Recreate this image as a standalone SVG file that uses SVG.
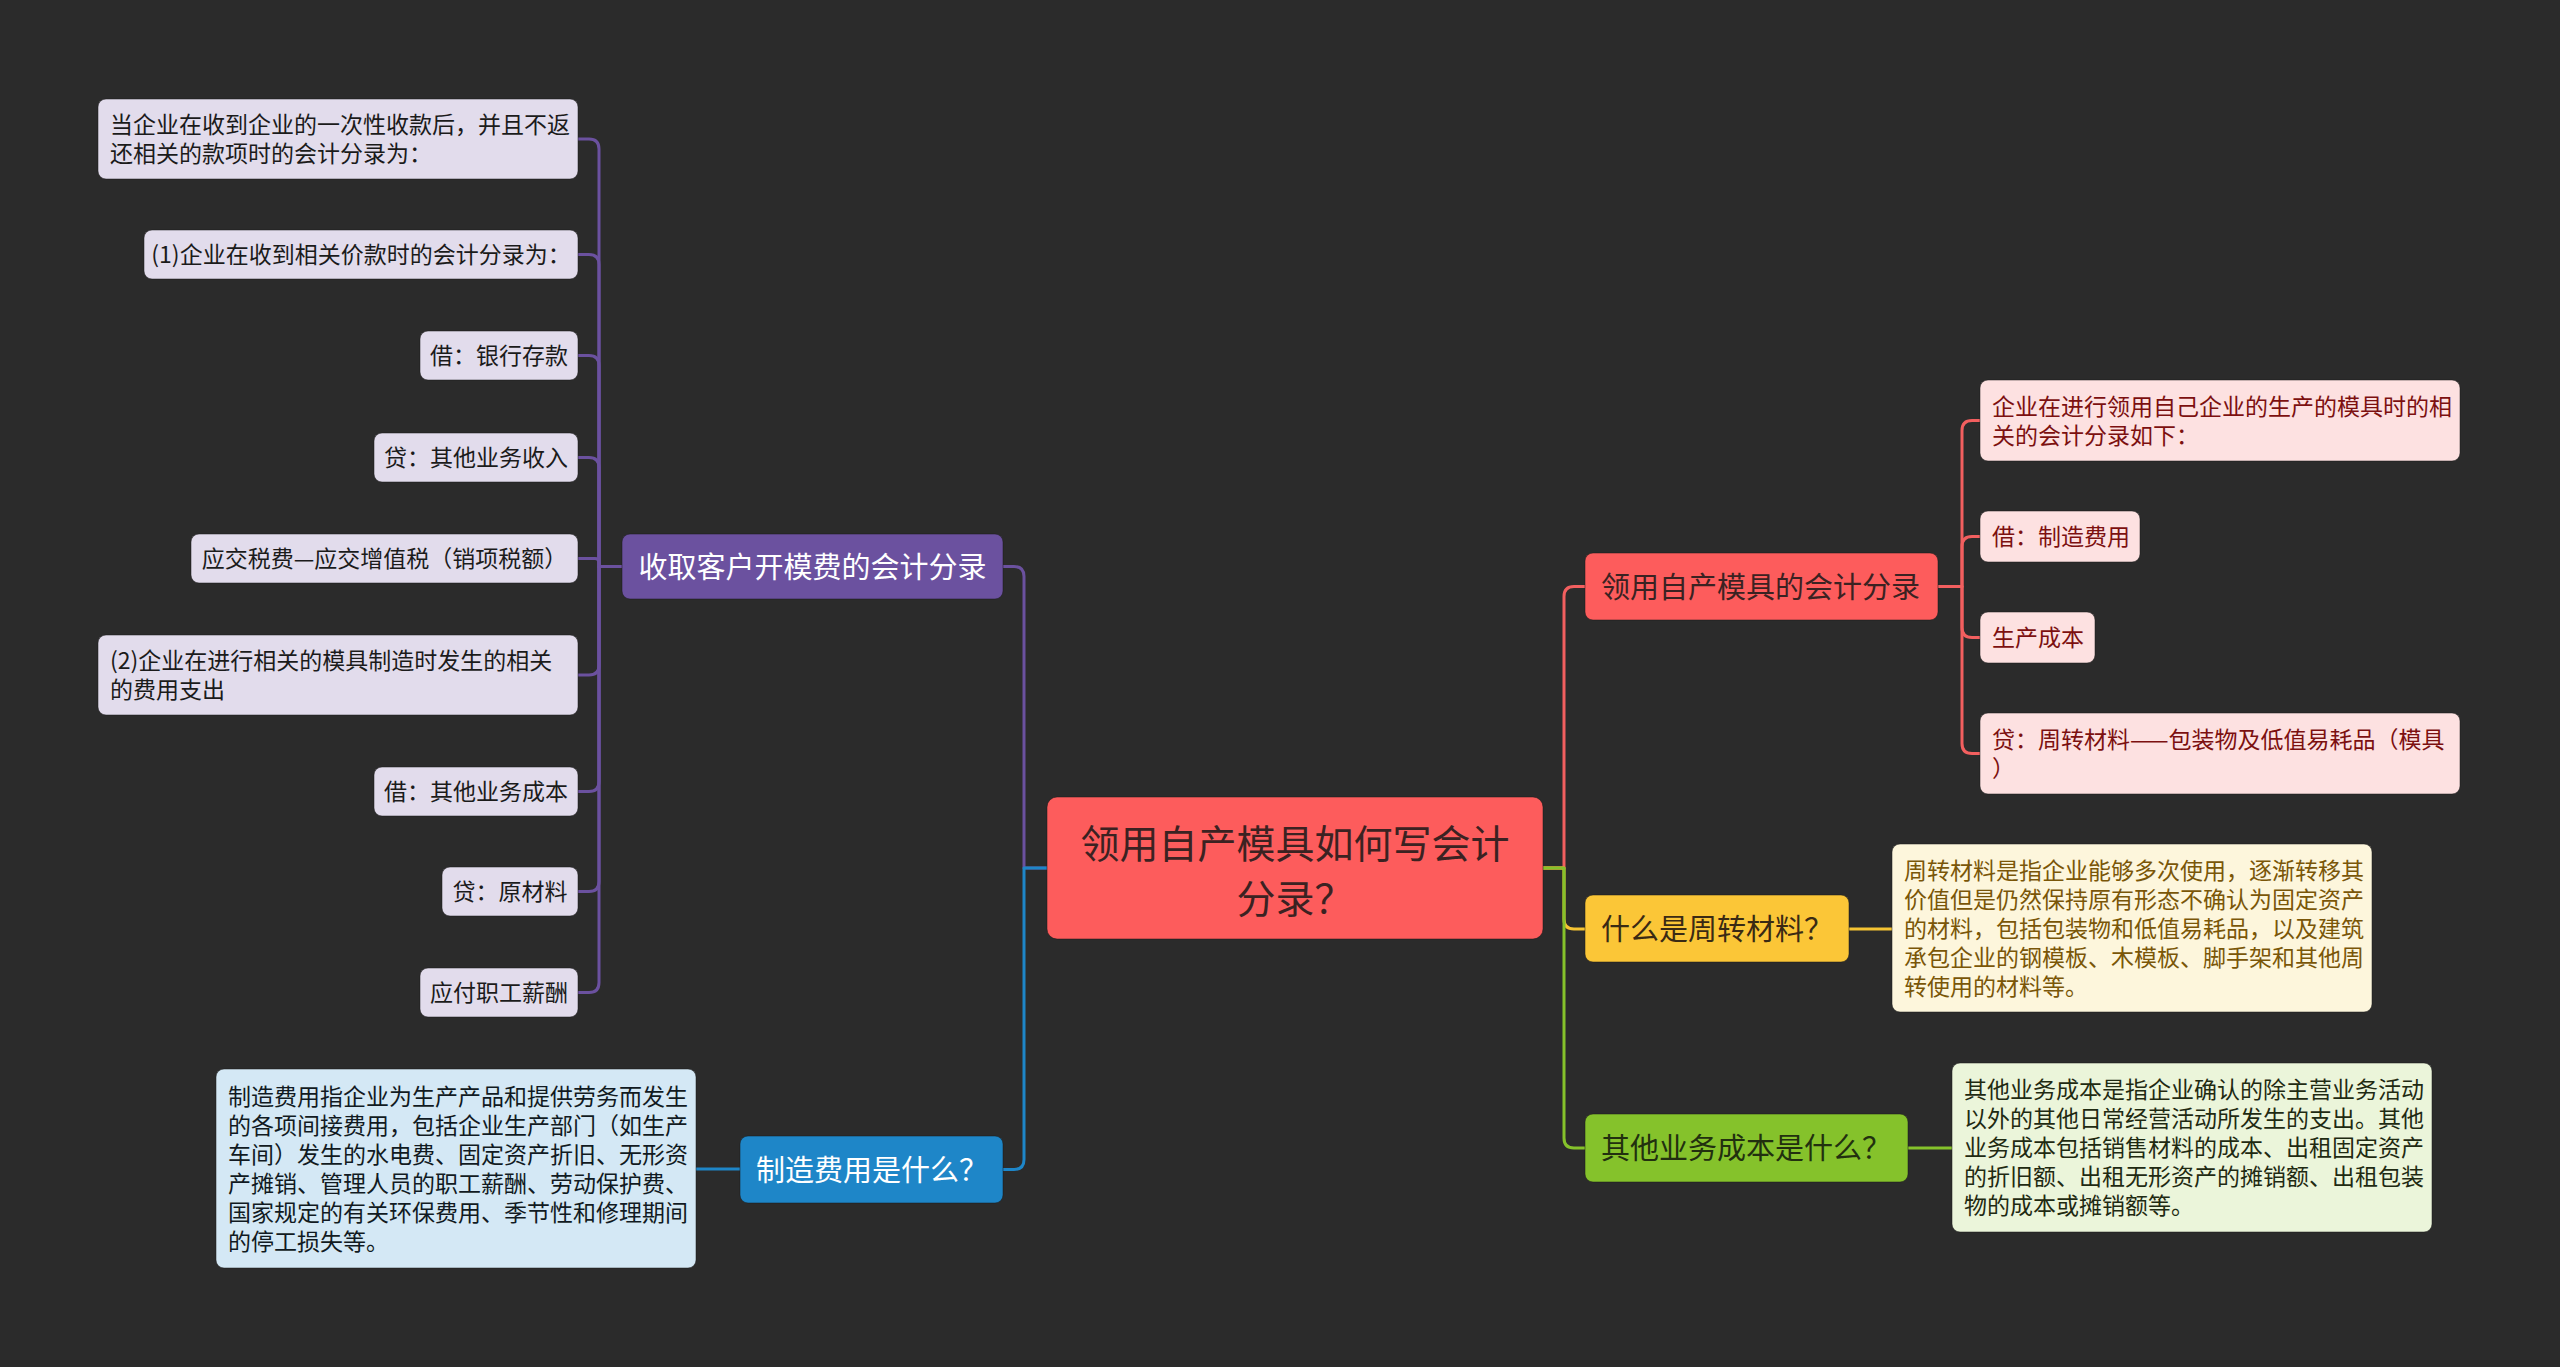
<svg xmlns="http://www.w3.org/2000/svg" width="2560" height="1367" viewBox="0 0 2560 1367">
<style>
text{font-family:"Noto Sans CJK SC","Noto Sans",sans-serif;}
.main{font-size:29px;}
.leaf{font-size:23px;}
.c{fill:none;stroke-width:3;stroke-linecap:round;stroke-linejoin:round;}
.pl{fill:#e2dcec;}
.pt{fill:#1b1b1b;}
.rl{fill:#fde1e1;}
.rt{fill:#7c1010;}
.bx{stroke:#1a1a1a;stroke-opacity:0.5;stroke-width:1;}
</style>
<rect width="2560" height="1367" fill="#2b2b2b"/>
<g id="connectors">
<path class="c" stroke="#6b519f" d="M1047 868 H1024 V576.5 Q1024 566.5 1014 566.5 H1003"/>
<path class="c" stroke="#1e86c8" d="M1047 868 H1024 V1159.5 Q1024 1169.5 1014 1169.5 H1003"/>
<path class="c" stroke="#f25f5f" d="M1543 868 H1564 V596.5 Q1564 586.5 1574 586.5 H1585"/>
<path class="c" stroke="#f6c433" d="M1543 868 H1564 V919 Q1564 929 1574 929 H1585"/>
<path class="c" stroke="#85c22b" d="M1543 868 H1564 V1138 Q1564 1148 1574 1148 H1585"/>
<g stroke="#6b519f">
<path class="c" d="M622 566.5 H599 V149 Q599 139 589 139 H578"/>
<path class="c" d="M622 566.5 H599 V264.5 Q599 254.5 589 254.5 H578"/>
<path class="c" d="M622 566.5 H599 V365.5 Q599 355.5 589 355.5 H578"/>
<path class="c" d="M622 566.5 H599 V467.5 Q599 457.5 589 457.5 H578"/>
<path class="c" d="M622 566.5 H599 V562.5 Q599 558.5 595 558.5 H578"/>
<path class="c" d="M622 566.5 H599 V665 Q599 675 589 675 H578"/>
<path class="c" d="M622 566.5 H599 V781.5 Q599 791.5 589 791.5 H578"/>
<path class="c" d="M622 566.5 H599 V881.5 Q599 891.5 589 891.5 H578"/>
<path class="c" d="M622 566.5 H599 V982.5 Q599 992.5 589 992.5 H578"/>
</g>
<g stroke="#f25f5f">
<path class="c" d="M1938 586.5 H1962 V430.5 Q1962 420.5 1972 420.5 H1980"/>
<path class="c" d="M1938 586.5 H1962 V546.5 Q1962 536.5 1972 536.5 H1980"/>
<path class="c" d="M1938 586.5 H1962 V627.5 Q1962 637.5 1972 637.5 H1980"/>
<path class="c" d="M1938 586.5 H1962 V743.5 Q1962 753.5 1972 753.5 H1980"/>
</g>
<path class="c" stroke="#1e86c8" d="M740 1169 H696"/>
<path class="c" stroke="#f6c433" d="M1849 929 H1892"/>
<path class="c" stroke="#85c22b" d="M1908 1148 H1952"/>
</g>

<g id="center">
<rect x="1047" y="797" width="496" height="142" rx="10" fill="#fd5c5c" class="bx"/>
<text x="1295" y="858" font-size="39" text-anchor="middle" fill="#3b2222">领用自产模具如何写会计</text>
<text x="1295" y="913" font-size="39" text-anchor="middle" fill="#3b2222">分录？</text>
</g>

<g id="purple-main">
<rect x="622" y="534" width="381" height="65" rx="8" fill="#6b519f" class="bx"/>
<text class="main" x="812.5" y="578" text-anchor="middle" fill="#ffffff">收取客户开模费的会计分录</text>
</g>
<g id="p1">
<rect x="98" y="99" width="480" height="80" rx="8" class="pl bx"/>
<text class="leaf pt" x="110" y="133">当企业在收到企业的一次性收款后，并且不返</text>
<text class="leaf pt" x="110" y="162">还相关的款项时的会计分录为：</text>
</g>
<g id="p2">
<rect x="144" y="230" width="434" height="49" rx="8" class="pl bx"/>
<text class="leaf pt" x="361" y="263" text-anchor="middle">(1)企业在收到相关价款时的会计分录为：</text>
</g>
<g id="p3">
<rect x="420" y="331" width="158" height="49" rx="8" class="pl bx"/>
<text class="leaf pt" x="499" y="364" text-anchor="middle">借：银行存款</text>
</g>
<g id="p4">
<rect x="374" y="433" width="204" height="49" rx="8" class="pl bx"/>
<text class="leaf pt" x="476" y="466" text-anchor="middle">贷：其他业务收入</text>
</g>
<g id="p5">
<rect x="191" y="534" width="387" height="49" rx="8" class="pl bx"/>
<text class="leaf pt" x="384.5" y="567" text-anchor="middle">应交税费—应交增值税（销项税额）</text>
</g>
<g id="p6">
<rect x="98" y="635" width="480" height="80" rx="8" class="pl bx"/>
<text class="leaf pt" x="110" y="669">(2)企业在进行相关的模具制造时发生的相关</text>
<text class="leaf pt" x="110" y="698">的费用支出</text>
</g>
<g id="p7">
<rect x="374" y="767" width="204" height="49" rx="8" class="pl bx"/>
<text class="leaf pt" x="476" y="800" text-anchor="middle">借：其他业务成本</text>
</g>
<g id="p8">
<rect x="442" y="867" width="136" height="49" rx="8" class="pl bx"/>
<text class="leaf pt" x="510" y="900" text-anchor="middle">贷：原材料</text>
</g>
<g id="p9">
<rect x="420" y="968" width="158" height="49" rx="8" class="pl bx"/>
<text class="leaf pt" x="499" y="1001" text-anchor="middle">应付职工薪酬</text>
</g>

<g id="blue-main">
<rect x="740" y="1136" width="263" height="67" rx="8" fill="#1e86c8" class="bx"/>
<text class="main" x="756" y="1181" fill="#ffffff">制造费用是什么？</text>
</g>
<g id="blue-leaf">
<rect x="216" y="1069" width="480" height="199" rx="8" fill="#d4e8f5" class="bx"/>
<g class="leaf" fill="#111a22">
<text x="228" y="1105">制造费用指企业为生产产品和提供劳务而发生</text>
<text x="228" y="1134">的各项间接费用，包括企业生产部门（如生产</text>
<text x="228" y="1163">车间）发生的水电费、固定资产折旧、无形资</text>
<text x="228" y="1192">产摊销、管理人员的职工薪酬、劳动保护费、</text>
<text x="228" y="1221">国家规定的有关环保费用、季节性和修理期间</text>
<text x="228" y="1250">的停工损失等。</text>
</g>
</g>

<g id="red-main">
<rect x="1585" y="553" width="353" height="67" rx="8" fill="#fd5c5c" class="bx"/>
<text class="main" x="1601" y="598" fill="#3b2222">领用自产模具的会计分录</text>
</g>
<g id="r1">
<rect x="1980" y="380" width="480" height="81" rx="8" class="rl bx"/>
<text class="leaf rt" x="1992" y="415">企业在进行领用自己企业的生产的模具时的相</text>
<text class="leaf rt" x="1992" y="444">关的会计分录如下：</text>
</g>
<g id="r2">
<rect x="1980" y="511" width="160" height="51" rx="8" class="rl bx"/>
<text class="leaf rt" x="1992" y="545">借：制造费用</text>
</g>
<g id="r3">
<rect x="1980" y="612" width="115" height="51" rx="8" class="rl bx"/>
<text class="leaf rt" x="1992" y="646">生产成本</text>
</g>
<g id="r4">
<rect x="1980" y="713" width="480" height="81" rx="8" class="rl bx"/>
<text class="leaf rt" x="1992" y="748">贷：周转材料——包装物及低值易耗品（模具</text>
<text class="leaf rt" x="1992" y="777">）</text>
</g>

<g id="yellow-main">
<rect x="1585" y="895" width="264" height="67" rx="8" fill="#fbc637" class="bx"/>
<text class="main" x="1601" y="940" fill="#3a2a14">什么是周转材料？</text>
</g>
<g id="yellow-leaf">
<rect x="1892" y="844" width="480" height="168" rx="8" fill="#fdf6dc" class="bx"/>
<g class="leaf" fill="#7a5608">
<text x="1904" y="879">周转材料是指企业能够多次使用，逐渐转移其</text>
<text x="1904" y="908">价值但是仍然保持原有形态不确认为固定资产</text>
<text x="1904" y="937">的材料，包括包装物和低值易耗品，以及建筑</text>
<text x="1904" y="966">承包企业的钢模板、木模板、脚手架和其他周</text>
<text x="1904" y="995">转使用的材料等。</text>
</g>
</g>

<g id="green-main">
<rect x="1585" y="1114" width="323" height="68" rx="8" fill="#85c22b" class="bx"/>
<text class="main" x="1601" y="1159" fill="#22300f">其他业务成本是什么？</text>
</g>
<g id="green-leaf">
<rect x="1952" y="1063" width="480" height="169" rx="8" fill="#ebf5da" class="bx"/>
<g class="leaf" fill="#1f2a12">
<text x="1964" y="1098">其他业务成本是指企业确认的除主营业务活动</text>
<text x="1964" y="1127">以外的其他日常经营活动所发生的支出。其他</text>
<text x="1964" y="1156">业务成本包括销售材料的成本、出租固定资产</text>
<text x="1964" y="1185">的折旧额、出租无形资产的摊销额、出租包装</text>
<text x="1964" y="1214">物的成本或摊销额等。</text>
</g>
</g>
</svg>
